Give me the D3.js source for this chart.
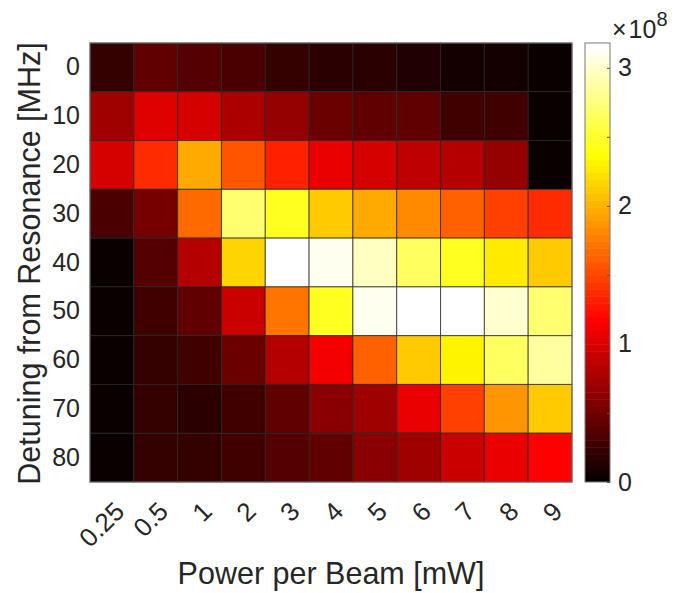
<!DOCTYPE html>
<html lang="en">
<head>
<meta charset="utf-8">
<title>Detuning vs power</title>
<style>
  body { margin: 0; background: #fff; }
  svg text { font-family: "Liberation Sans", Arial, Helvetica, sans-serif; fill: #262626; }
  .axis path.domain { display: none; }
</style>
</head>
<body>
<div id="chart"></div>
<script src="https://d3js.org/d3.v7.min.js"></script>
<script>
// power per beam [mW] (columns) and detuning [MHz] (rows)
var powers = ["0.25", "0.5", "1", "2", "3", "4", "5", "6", "7", "8", "9"];
var detunings = [0, 10, 20, 30, 40, 50, 60, 70, 80];

// values, in units of 1e8
var det0  = [0.20, 0.42, 0.38, 0.30, 0.22, 0.17, 0.19, 0.14, 0.08, 0.08, 0.03];
var det10 = [0.72, 1.04, 0.97, 0.75, 0.65, 0.47, 0.42, 0.40, 0.28, 0.28, 0.03];
var det20 = [0.99, 1.35, 1.94, 1.57, 1.32, 1.08, 0.98, 0.85, 0.80, 0.66, 0.03];
var det30 = [0.34, 0.50, 1.66, 2.69, 2.44, 2.09, 1.95, 1.80, 1.60, 1.48, 1.38];
var det40 = [0.03, 0.35, 0.80, 2.17, 3.18, 3.12, 2.94, 2.67, 2.44, 2.27, 2.12];
var det50 = [0.03, 0.27, 0.44, 0.94, 1.70, 2.47, 3.12, 3.17, 3.16, 2.99, 2.69];
var det60 = [0.03, 0.22, 0.28, 0.47, 0.80, 1.14, 1.60, 2.09, 2.32, 2.66, 2.84];
var det70 = [0.03, 0.22, 0.19, 0.27, 0.42, 0.62, 0.74, 1.08, 1.45, 1.85, 2.10];
var det80 = [0.03, 0.21, 0.21, 0.27, 0.38, 0.40, 0.62, 0.74, 0.92, 1.09, 1.15];
var rows = [det0, det10, det20, det30, det40, det50, det60, det70, det80];

var cbarTicks = [0, 1, 2, 3];
var cbarMinor = [0, 0.5, 1, 1.5, 2, 2.5, 3];

var w = 690, h = 593;
var plotL = 90, plotR = 572, plotT = 43, plotB = 482;

var cells = [];
rows.forEach(function(r, j) {
  r.forEach(function(v, i) {
    cells.push({ p: powers[i], d: detunings[j], v: v });
  });
});

var cmin = 0;
var cmax = d3.max(cells, function(d) { return d.v; });

// matlab hot(64)
var m = 64;
function hot(i) { // i from 1..m
  var n = Math.floor(3 / 8 * m);
  var r = Math.min(i / n, 1);
  var g = Math.max(0, Math.min((i - n) / n, 1));
  var b = Math.max(0, Math.min((i - 2 * n) / (m - 2 * n), 1));
  return d3.rgb(r * 255, g * 255, b * 255).formatHex();
}
function colour(v) {
  var idx = Math.floor((v - cmin) / (cmax - cmin) * m) + 1;
  idx = Math.max(1, Math.min(m, idx));
  return hot(idx);
}

var svg = d3.select("#chart").append("svg")
  .attr("width", w).attr("height", h);

var x = d3.scaleBand().domain(powers).range([plotL, plotR]);
var y = d3.scaleBand().domain(detunings).range([plotT, plotB]);

svg.append("g").selectAll("rect").data(cells).enter()
  .append("rect")
  .attr("x", function(d) { return x(d.p); })
  .attr("y", function(d) { return y(d.d); })
  .attr("width", x.bandwidth())
  .attr("height", y.bandwidth())
  .attr("fill", function(d) { return colour(d.v); })
  .attr("stroke", "#262626")
  .attr("stroke-opacity", 0.75)
  .attr("stroke-width", 1);

svg.append("rect")
  .attr("x", plotL).attr("y", plotT)
  .attr("width", plotR - plotL).attr("height", plotB - plotT)
  .attr("fill", "none").attr("stroke", "#777");

// y axis
var gy = svg.append("g").attr("class", "axis")
  .attr("transform", "translate(" + plotL + ",0)")
  .call(d3.axisLeft(y).tickSize(0).tickPadding(10));
gy.selectAll("text").style("font-size", "25px").attr("fill", "#262626");

// x axis, rotated labels
var gx = svg.append("g").attr("class", "axis")
  .attr("transform", "translate(0," + plotB + ")")
  .call(d3.axisBottom(x).tickSize(0));
gx.selectAll("text")
  .style("font-size", "26px")
  .attr("fill", "#262626")
  .attr("text-anchor", "end")
  .attr("dy", null)
  .attr("y", 0)
  .attr("transform", "translate(14,31) rotate(-45)");

svg.append("text")
  .attr("x", (plotL + plotR) / 2).attr("y", 584)
  .attr("text-anchor", "middle")
  .style("font-size", "30.5px")
  .text("Power per Beam [mW]");

svg.append("text")
  .attr("transform", "translate(40," + ((plotT + plotB) / 2 + 1) + ") rotate(-90)")
  .attr("text-anchor", "middle")
  .style("font-size", "30.5px")
  .text("Detuning from Resonance [MHz]");

// colorbar
var cbL = 585, cbR = 610;
var cy = d3.scaleLinear().domain([cmin, cmax]).range([plotB, plotT]);
var bands = d3.range(1, m + 1);
svg.append("g").selectAll("rect").data(bands).enter()
  .append("rect")
  .attr("x", cbL)
  .attr("width", cbR - cbL)
  .attr("y", function(i) { return cy(cmin + i * (cmax - cmin) / m) - 0.5; })
  .attr("height", function(i) { return cy(cmin + (i - 1) * (cmax - cmin) / m) - cy(cmin + i * (cmax - cmin) / m) + 0.5; })
  .attr("fill", function(i) { return hot(i); });
svg.append("rect")
  .attr("x", cbL).attr("y", plotT)
  .attr("width", cbR - cbL).attr("height", plotB - plotT)
  .attr("fill", "none").attr("stroke", "#777");

var gc = svg.append("g").attr("class", "axis")
  .attr("transform", "translate(" + cbR + ",0)")
  .call(d3.axisRight(cy).tickValues(cbarTicks).tickSize(0).tickPadding(8).tickFormat(d3.format("d")));
gc.selectAll("text").style("font-size", "25px").attr("fill", "#262626");
svg.append("g").attr("class", "axis")
  .attr("transform", "translate(" + cbR + ",0)")
  .call(d3.axisRight(cy).tickValues(cbarMinor).tickSize(-3).tickFormat(""))
  .selectAll("line").attr("stroke", "#555");

var expo = svg.append("text").attr("x", 612).attr("y", 38).style("font-size", "25px");
expo.append("tspan").text("\u00d7");
expo.append("tspan").attr("dx", 2).text("10");
expo.append("tspan").attr("dy", -12).style("font-size", "20px").text("8");
</script>
</body>
</html>
